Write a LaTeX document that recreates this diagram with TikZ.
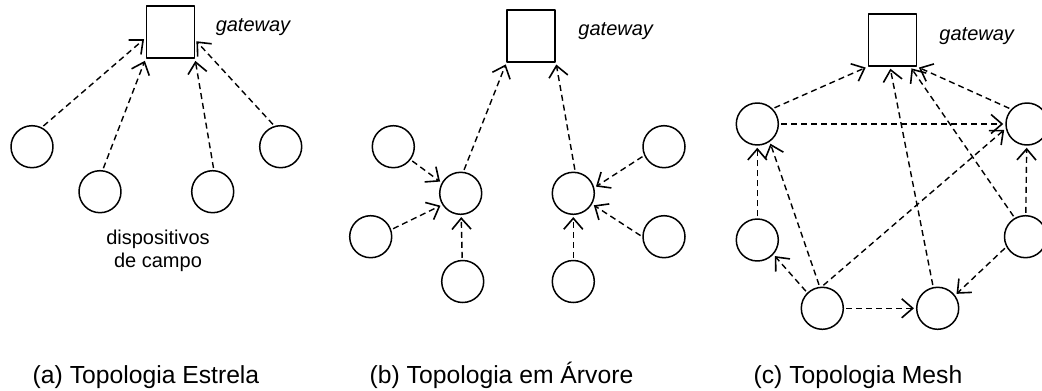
\documentclass[tikz,border=0pt]{standalone}
\usepackage{fontspec}
\setmainfont{Liberation Sans}
\usetikzlibrary{arrows.meta}
\begin{document}
\begin{tikzpicture}[x=1pt, y=-1pt, line join=round,
  dev/.style={circle, draw, line width=1.5pt, minimum size=42pt, inner sep=0pt},
  gw/.style={draw, line width=1.5pt, minimum width=48pt, minimum height=52pt, inner sep=0pt},
  link/.style={line width=1.4pt, dash pattern=on 6pt off 4pt, -{Straight Barb[length=11pt,width=19pt,line width=1.6pt]}, shorten >=2pt, shorten <=2pt},
  lbl/.style={font=\fontsize{20}{23}\selectfont, inner sep=0pt},
  legenda/.style={font=\fontsize{24.7}{28}\selectfont, inner sep=0pt, anchor=base}]
  \useasboundingbox (0,0) rectangle (1042,391);
  % (a) estrela
  \node[gw] (gwa) at (170.3,32.2) {};
  \node[lbl, font=\fontsize{20}{23}\selectfont\itshape] (txta) at (253,27) {gateway};
  \node[dev] (a1) at (32,146.7) {};
  \node[dev] (a2) at (100,191.7) {};
  \node[dev] (a3) at (212.7,191.7) {};
  \node[dev] (a4) at (280.7,146.7) {};
  \node[lbl, align=center] (disp) at (158,251) {dispositivos\\de campo};
  \draw[link] (a1.63) -- (gwa.193);
  \draw[link] (a2.83) -- (gwa.south west);
  \draw[link] (a3.87) -- (gwa.south east);
  \draw[link] (a4.107) -- (gwa.343);
  % (b) arvore
  \node[gw] (gwb) at (531.2,35.8) {};
  \node[lbl, font=\fontsize{20}{23}\selectfont\itshape] (txtb) at (615.7,31) {gateway};
  \node[dev] (hl) at (460.7,193.3) {};
  \node[dev] (hr) at (573.3,193.3) {};
  \node[dev] (l1) at (393.3,146.7) {};
  \node[dev] (l2) at (370.7,236.7) {};
  \node[dev] (l3) at (462.7,281.5) {};
  \node[dev] (r1) at (664,146.7) {};
  \node[dev] (r2) at (664,236.7) {};
  \node[dev] (r3) at (573.3,281.5) {};
  \draw[link] (hl.83) -- (gwb.south west);
  \draw[link] (hr.85) -- (gwb.south east);
  \draw[link] (l1.-37) -- (hl.151);
  \draw[link] (l2.19) -- (hl.212);
  \draw[link] (l3) -- (hl);
  \draw[link] (r1.204) -- (hr.15);
  \draw[link] (r2.180) -- (hr.330);
  \draw[link] (r3) -- (hr);
  % (c) mesh
  \node[gw] (gwc) at (892.3,40) {};
  \node[lbl, font=\fontsize{20}{23}\selectfont\itshape] (txtc) at (976.7,36) {gateway};
  \node[dev] (tl) at (757.3,124) {};
  \node[dev] (tr) at (1027,124) {};
  \node[dev] (ml) at (757.3,240) {};
  \node[dev] (mr) at (1025.5,236.7) {};
  \node[dev] (bl) at (822.3,308.3) {};
  \node[dev] (br) at (937.7,308.3) {};
  \draw[link] (tl.45) -- (gwc.south west);
  \draw[link] (tl) -- (tr);
  \draw[link] (bl.91) -- (tr.192);
  \draw[link] (bl.97) -- (tl.305);
  \draw[link] (ml) -- (tl);
  \draw[link] (bl.134) -- (ml.318);
  \draw[link] (bl) -- (br);
  \draw[link] (br.102) -- (gwc.265);
  \draw[link] (mr.120) -- (gwc.304);
  \draw[link] (tr.137) -- (gwc.south east);
  \draw[link] (mr) -- (tr);
  \draw[link] (mr.208) -- (br.37);
  % legendas
  \node[legenda] (capa) at (146,383) {(a) Topologia Estrela};
  \node[legenda] (capb) at (501.5,383) {(b) Topologia em Árvore};
  \node[legenda] (capc) at (858,383) {(c) Topologia Mesh};
\end{tikzpicture}
\end{document}
